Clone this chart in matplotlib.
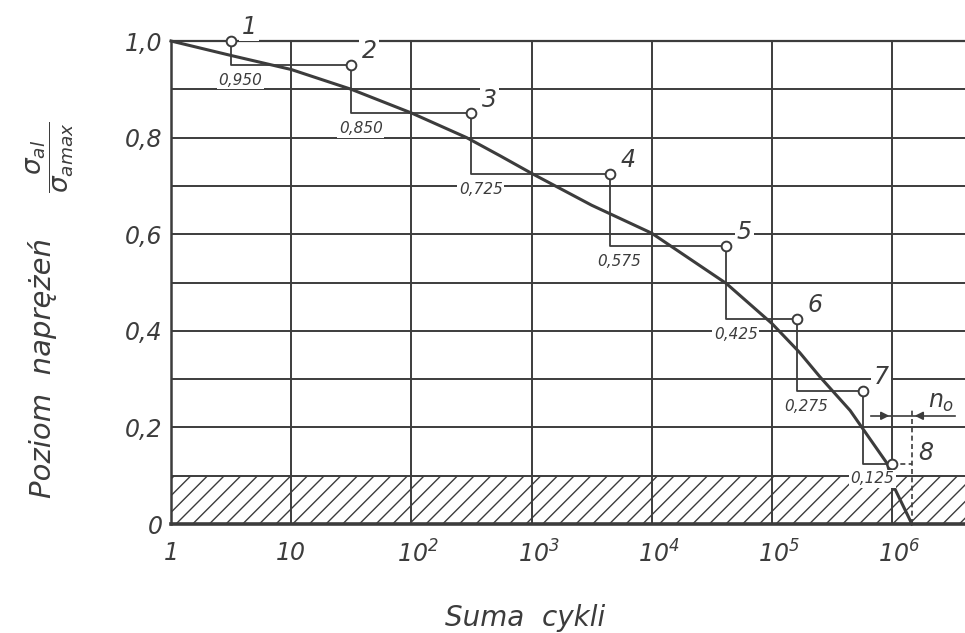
import matplotlib
matplotlib.use("Agg")
import matplotlib.pyplot as plt
import matplotlib.transforms as mtransforms

# krzywa: suma cykli -> poziom naprezen
CURVE_N = [1, 3.16, 10, 31.6, 100, 288, 550, 1e3, 3.16e3, 1e4, 4.17e4,
           1e5, 1.7e5, 2.5e5, 4.47e5, 5.6e5, 9.1e5, 1.02e6, 1.46e6]
CURVE_Y = [1.0, 0.97, 0.941, 0.90, 0.851, 0.80, 0.762, 0.726, 0.660, 0.602,
           0.498, 0.415, 0.355, 0.305, 0.235, 0.20, 0.125, 0.08, 0.0]

# punkty 1..8 (schodki)
POINT_N = [3.16, 31.6, 316, 4.47e3, 4.17e4, 1.6e5, 5.7e5, 1.0e6]
POINT_Y = [1.0, 0.950, 0.850, 0.725, 0.575, 0.425, 0.275, 0.125]
POINT_NAMES = ["1", "2", "3", "4", "5", "6", "7", "8"]
LEVEL_LABELS = ["0,950", "0,850", "0,725", "0,575", "0,425", "0,275", "0,125"]

X_TICKS = [1, 10, 1e2, 1e3, 1e4, 1e5, 1e6]
X_TICK_LABELS = ["1", "10", r"$10^{2}$", r"$10^{3}$", r"$10^{4}$",
                 r"$10^{5}$", r"$10^{6}$"]
Y_TICKS = [0, 0.2, 0.4, 0.6, 0.8, 1.0]
Y_TICK_LABELS = ["0", "0,2", "0,4", "0,6", "0,8", "1,0"]
Y_GRID = [0.1, 0.3, 0.5, 0.7, 0.9]
HATCH_TOP = 0.1
N0_LEVEL = 0.224

INK = "#3c3c3c"

plt.rcParams["font.family"] = "DejaVu Sans"
plt.rcParams["font.style"] = "italic"
plt.rcParams["mathtext.fontset"] = "custom"
plt.rcParams["mathtext.rm"] = "DejaVu Sans:italic"
plt.rcParams["mathtext.it"] = "DejaVu Sans:italic"
plt.rcParams["mathtext.default"] = "it"
plt.rcParams["hatch.color"] = INK
plt.rcParams["hatch.linewidth"] = 1.0
plt.rcParams["text.color"] = INK

fig = plt.figure(figsize=(9.65, 6.33), dpi=100, facecolor="white")
ax = fig.add_axes([171 / 965, 109 / 633, 794 / 965, 483 / 633])
xmax = 10 ** 6.606

ax.set_xscale("log")
ax.set_xlim(1, xmax)
ax.set_ylim(0, 1.0)

# siatka
ax.set_xticks(X_TICKS)
ax.set_xticklabels(X_TICK_LABELS, fontsize=17, color=INK)
ax.xaxis.set_minor_locator(matplotlib.ticker.NullLocator())
ax.set_yticks(Y_TICKS)
ax.set_yticklabels(Y_TICK_LABELS, fontsize=17, color=INK)
ax.set_yticks(Y_GRID, minor=True)
ax.grid(True, which="both", color=INK, lw=1.4)
ax.tick_params(which="both", length=0)
ax.tick_params(axis="x", pad=12)
ax.tick_params(axis="y", pad=6)
shift = mtransforms.ScaledTranslation(0.07, 0, fig.dpi_scale_trans)
for lab in ax.get_xticklabels()[2:]:
    lab.set_transform(lab.get_transform() + shift)

for side, lw in [("left", 1.8), ("top", 1.6), ("bottom", 2.6)]:
    ax.spines[side].set_color(INK)
    ax.spines[side].set_linewidth(lw)
ax.spines["right"].set_visible(False)

# strefa zakreskowana
ax.fill_between([1, xmax], 0, HATCH_TOP, hatch="//", facecolor="none",
                edgecolor=INK, linewidth=0, zorder=1)

# krzywa
ax.plot(CURVE_N, CURVE_Y, color=INK, lw=2.2, zorder=4, clip_on=False)

# schodki
ax.step(POINT_N, POINT_Y, where="pre", color=INK, lw=1.3, zorder=3)
ax.plot([POINT_N[-1], CURVE_N[-1]], [POINT_Y[-1], POINT_Y[-1]],
        color=INK, lw=1.2, ls=(0, (3, 2)), zorder=3)
ax.plot([CURVE_N[-1], CURVE_N[-1]], [0, N0_LEVEL + 0.012],
        color=INK, lw=1.2, ls=(0, (3, 2)), zorder=3)
ax.plot(POINT_N, POINT_Y, "o", ms=7, mfc="white", mec=INK, mew=1.4,
        zorder=5, clip_on=False)

white = dict(boxstyle="square,pad=0.1", fc="white", ec="none")
for i, name in enumerate(POINT_NAMES):
    off = (24, 8) if i == len(POINT_NAMES) - 1 else (13, 10)
    ax.annotate(name, (POINT_N[i], POINT_Y[i]), xytext=off,
                textcoords="offset points", ha="center", va="center",
                fontsize=17, bbox=white, zorder=6)

for i, lab in enumerate(LEVEL_LABELS):
    ax.annotate(lab, (POINT_N[i], POINT_Y[i + 1]), xytext=(-9, -11),
                textcoords="offset points", ha="left", va="center",
                fontsize=11, bbox=white, zorder=6)

# wymiar n0
ax.plot([POINT_N[-1] / 1.5, CURVE_N[-1] * 2.3], [N0_LEVEL, N0_LEVEL],
        color=INK, lw=1.2, zorder=3)
arrow = dict(arrowstyle="-|>", color=INK, lw=1.2, mutation_scale=12)
ax.annotate("", xy=(POINT_N[-1], N0_LEVEL),
            xytext=(POINT_N[-1] / 1.3, N0_LEVEL), arrowprops=arrow)
ax.annotate("", xy=(CURVE_N[-1], N0_LEVEL),
            xytext=(CURVE_N[-1] * 1.3, N0_LEVEL), arrowprops=arrow)
ax.text(CURVE_N[-1] * 1.75, N0_LEVEL + 0.028, r"$n_{o}$", fontsize=17,
        ha="center", va="center")

# opisy osi
fig.text(43 / 965, 1 - 368 / 633, "Poziom  naprężeń", rotation=90,
         ha="center", va="center", fontsize=21)
fig.text(50 / 965, 1 - 157 / 633, r"$\dfrac{\sigma_{al}}{\sigma_{amax}}$",
         rotation=90, ha="center", va="center", fontsize=19)
fig.text(525 / 965, 1 - 618 / 633, "Suma  cykli", ha="center", va="center",
         fontsize=20)

fig.savefig("out.png", dpi=100, facecolor="white")
